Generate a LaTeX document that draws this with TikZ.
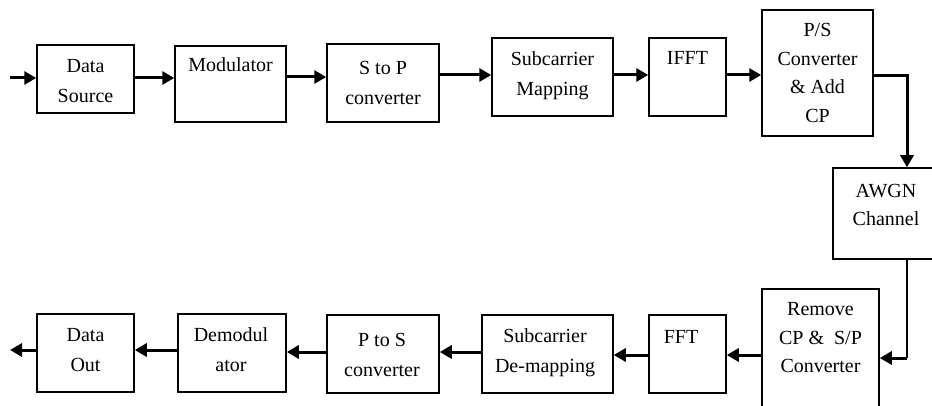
\documentclass[tikz,border=0pt]{standalone}
\usepackage{fontspec}
\setmainfont{Liberation Serif}
\usetikzlibrary{arrows.meta}
\begin{document}
\begin{tikzpicture}[x=1pt,y=-1pt,
  box/.style={draw, line width=1.5pt, inner sep=0pt},
  lbl/.style={font=\fontsize{20}{30}\selectfont, align=center, inner sep=0pt},
  lbltight/.style={font=\fontsize{20}{28.5}\selectfont, align=center, inner sep=0pt},
  arr/.style={line width=3pt, -{Triangle[length=12pt,width=13pt]}},
  thinln/.style={line width=1.5pt}
]
\useasboundingbox (0,0) rectangle (932,406);
\clip (0,0) rectangle (932,406);
% boxes
\node[box, minimum width=97pt,  minimum height=68pt]  (ds)    at (85.5,79)   {};
\node[box, minimum width=111pt, minimum height=76pt]  (mod)   at (230.5,84)  {};
\node[box, minimum width=112pt, minimum height=78pt]  (s2p)   at (383,83)    {};
\node[box, minimum width=121pt, minimum height=78pt]  (scm)   at (552.5,77)  {};
\node[box, minimum width=77pt,  minimum height=78pt]  (ifft)  at (687.5,77)  {};
\node[box, minimum width=111pt, minimum height=126pt] (ps)    at (817.5,73)  {};
\node[box, minimum width=106pt, minimum height=91pt]  (awgn)  at (886,213.5) {};
\node[box, minimum width=117pt, minimum height=141pt] (rcp)   at (820.5,359.5) {};
\node[box, minimum width=77pt,  minimum height=78pt]  (fft)   at (687.5,354) {};
\node[box, minimum width=131pt, minimum height=78pt]  (scd)   at (547.5,354) {};
\node[box, minimum width=112pt, minimum height=78pt]  (p2s)   at (383,354)   {};
\node[box, minimum width=108pt, minimum height=78pt]  (demod) at (232,353)   {};
\node[box, minimum width=97pt,  minimum height=78pt]  (dout)  at (85.5,353)  {};
% labels
\node[lbl] (ds-t)    at (85.5,81)  {Data\\Source};
\node[lbl, anchor=base] (mod-t) at (230.5,72) {Modulator};
\node[lbl] (s2p-t)   at (383,83)   {S to P\\converter};
\node[lbl] (scm-t)   at (552.5,75.5) {Subcarrier\\Mapping};
\node[lbl, anchor=base] (ifft-t) at (687.5,65) {IFFT};
\node[lbltight] (ps-t)  at (817.5,73) {P/S\\Converter\\\& Add\\CP};
\node[lbltight] (awgn-t) at (886,205) {AWGN\\Channel};
\node[lbltight] (rcp-t) at (820.5,338) {Remove\\CP \&~~S/P\\Converter};
\node[lbl, anchor=base] (fft-t) at (681,343) {FFT};
\node[lbl] (scd-t)   at (545,353)  {Subcarrier\\De-mapping};
\node[lbl] (p2s-t)   at (382,355)  {P to S\\converter};
\node[lbl] (demod-t) at (231,350)  {Demodul\\ator};
\node[lbl] (dout-t)  at (85.5,350) {Data\\Out};
% connectors
\coordinate (in)  at (10,78);
\coordinate (r1)  at (0,78);
\coordinate (r2)  at (0,77);
\coordinate (r3)  at (0,75);
\coordinate (k1)  at (907,76);
\coordinate (k2)  at (907,358);
\coordinate (r4)  at (0,355);
\coordinate (r5)  at (0,352);
\coordinate (out) at (10,350);
\draw[arr] (in) -- (ds.west |- in);
\draw[arr] (ds.east |- r1) -- (mod.west |- r1);
\draw[arr] (mod.east |- r2) -- (s2p.west |- r2);
\draw[arr] (s2p.east |- r3) -- (scm.west |- r3);
\draw[arr] (scm.east |- r3) -- (ifft.west |- r3);
\draw[arr] (ifft.east |- r3) -- (ps.west |- r3);
\draw[arr] (ps.east |- k1) -- (k1) -- (k1 |- awgn.north);
\draw[thinln] (k1 |- awgn.south) -- (k2);
\draw[arr] (k2) -- (rcp.east |- k2);
\draw[arr] (rcp.west |- r4) -- (fft.east |- r4);
\draw[arr] (fft.west |- r4) -- (scd.east |- r4);
\draw[arr] (scd.west |- r5) -- (p2s.east |- r5);
\draw[arr] (p2s.west |- r5) -- (demod.east |- r5);
\draw[arr] (demod.west |- out) -- (dout.east |- out);
\draw[arr] (dout.west |- out) -- (out);
\end{tikzpicture}
\end{document}
